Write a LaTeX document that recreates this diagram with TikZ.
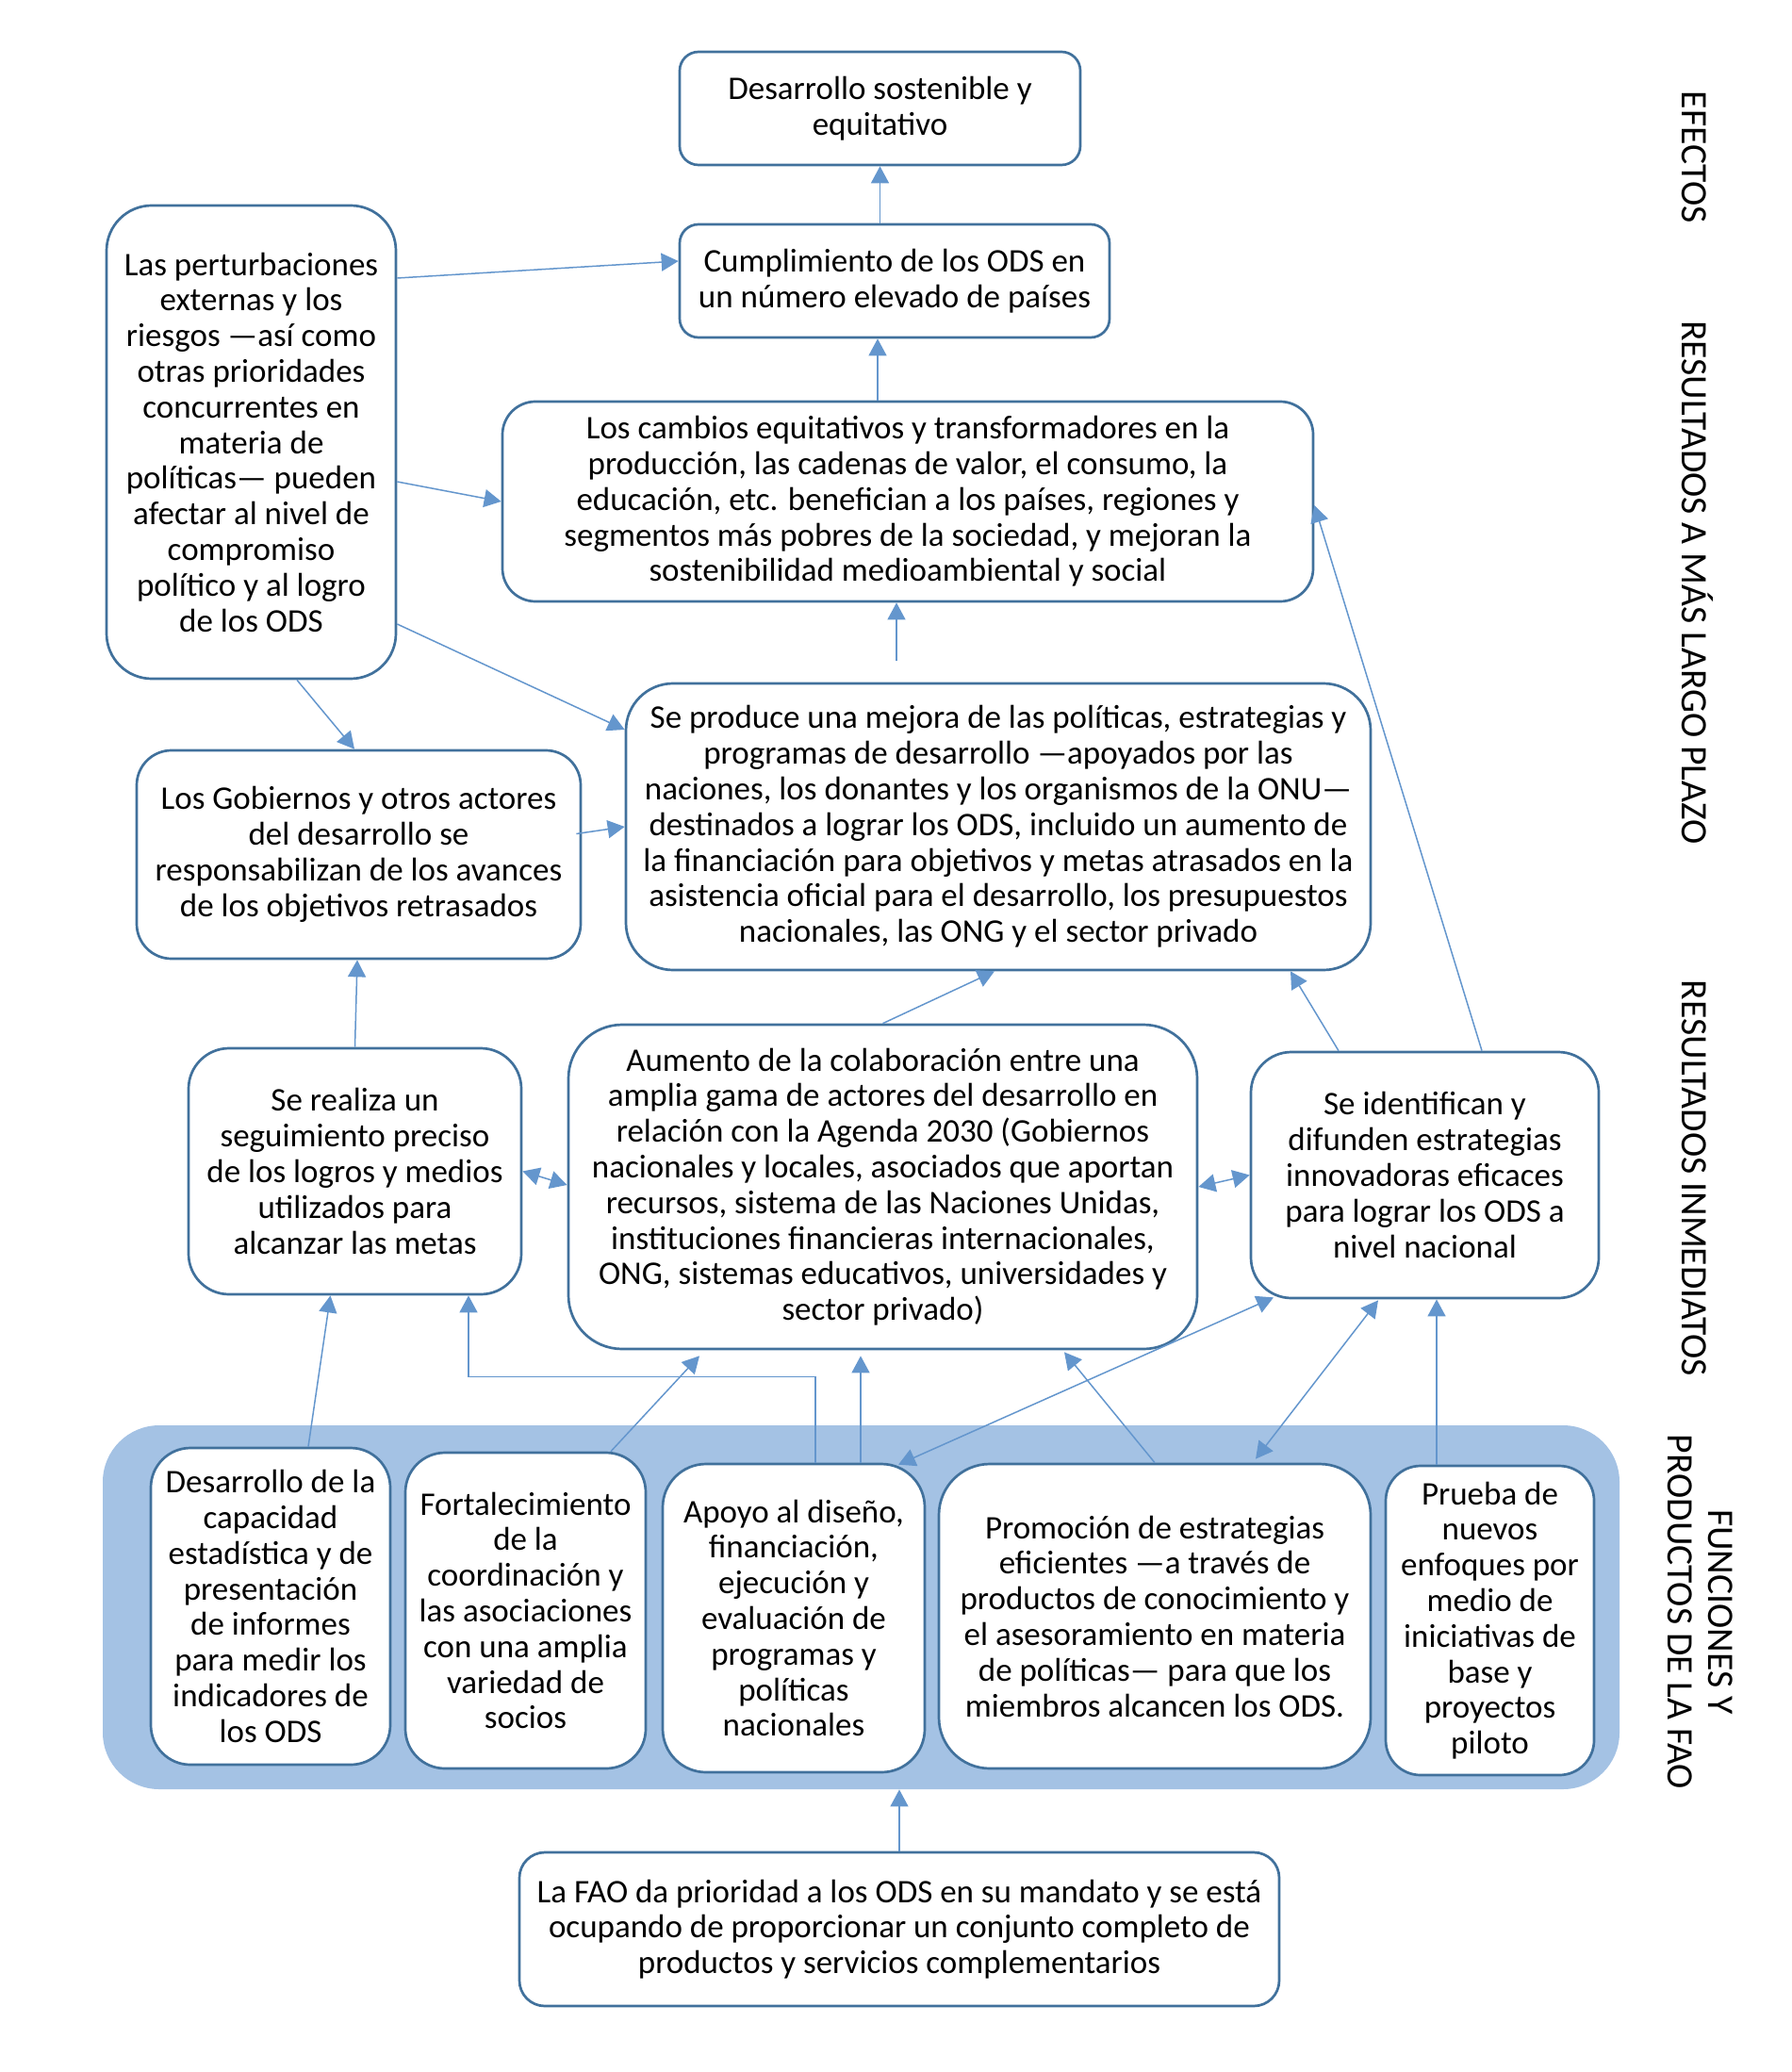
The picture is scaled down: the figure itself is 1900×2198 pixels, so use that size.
\documentclass[tikz,border=0pt]{standalone}
\usepackage{fontspec}
\setmainfont{Carlito}
\usetikzlibrary{arrows.meta,calc}
\definecolor{boxC}{HTML}{41719C}
\definecolor{connC}{HTML}{6496CD}
\definecolor{bandC}{HTML}{A4C2E4}
\newcommand{\mainsz}{\fontsize{17.5}{18.9}\selectfont}
\newcommand{\lblsz}{\fontsize{19.8}{22}\selectfont}
\tikzset{
  box/.style n args={3}{draw=boxC, line width=1.35pt, fill=white, rounded corners=#3,
    minimum width=#1, minimum height=#2, align=center, inner sep=2pt, font=\mainsz},
  conn/.style={draw=connC, line width=0.75pt, -{Triangle[length=9pt,width=9.5pt]}},
  dconn/.style={draw=connC, line width=0.75pt, {Triangle[length=9pt,width=9.5pt]}-{Triangle[length=9pt,width=9.5pt]}},
  lbl/.style={font=\lblsz, inner sep=0pt, text height=12.75pt, text depth=0pt, rotate=-90}
}
\begin{document}
\begin{tikzpicture}[x=0.5pt,y=-0.5pt]
\useasboundingbox (0,0) rectangle (1900,2198);

% band
\node[fill=bandC, rounded corners=30pt, minimum width=804.5pt, minimum height=193pt, inner sep=0pt] (band) at (913.5,1705) {};

% boxes
\node[box={212.5pt}{60pt}{10pt}] (D) at (933.5,115) {Desarrollo sostenible y\\equitativo};
\node[box={228pt}{60pt}{10pt}] (C) at (949,298) {Cumplimiento de los ODS en\\un número elevado de países};
\node[box={153.5pt}{251pt}{24pt}] (L) at (266.5,469) {Las perturbaciones\\externas y los\\riesgos —así como\\otras prioridades\\concurrentes en\\materia de\\políticas— pueden\\afectar al nivel de\\compromiso\\político y al logro\\de los ODS};
\node[box={430pt}{106pt}{17.5pt}] (CB) at (963,532) {Los cambios equitativos y transformadores en la\\producción, las cadenas de valor, el consumo, la\\educación, etc. benefician a los países, regiones y\\segmentos más pobres de la sociedad, y mejoran la\\sostenibilidad medioambiental y social};
\node[box={395pt}{152pt}{25pt}] (SP) at (1059,877) {Se produce una mejora de las políticas, estrategias y\\programas de desarrollo —apoyados por las\\naciones, los donantes y los organismos de la ONU—\\destinados a lograr los ODS, incluido un aumento de\\la financiación para objetivos y metas atrasados en la\\asistencia oficial para el desarrollo, los presupuestos\\nacionales, las ONG y el sector privado};
\node[box={235.5pt}{110.5pt}{18.5pt}] (G) at (380.5,906.5) {Los Gobiernos y otros actores\\del desarrollo se\\responsabilizan de los avances\\de los objetivos retrasados};
\node[box={176.5pt}{130.5pt}{21.5pt}] (SR) at (376.5,1242.5) {Se realiza un\\seguimiento preciso\\de los logros y medios\\utilizados para\\alcanzar las metas};
\node[box={333.5pt}{172pt}{28.5pt}] (A) at (936.5,1259) {Aumento de la colaboración entre una\\amplia gama de actores del desarrollo en\\relación con la Agenda 2030 (Gobiernos\\nacionales y locales, asociados que aportan\\recursos, sistema de las Naciones Unidas,\\instituciones financieras internacionales,\\ONG, sistemas educativos, universidades y\\sector privado)};
\node[box={184.5pt}{130.5pt}{21.5pt}] (SI) at (1511.5,1246.5) {Se identifican y\\difunden estrategias\\innovadoras eficaces\\para lograr los ODS a\\nivel nacional};

\node[box={127pt}{168pt}{21pt}] (B1) at (287,1704) {Desarrollo de la\\capacidad\\estadística y de\\presentación\\de informes\\para medir los\\indicadores de\\los ODS};
\node[box={127.5pt}{167.5pt}{21pt}] (B2) at (557.5,1708.5) {Fortalecimiento\\de la\\coordinación y\\las asociaciones\\con una amplia\\variedad de\\socios};
\node[box={139pt}{163.5pt}{23pt}] (B3) at (842,1716.5) {Apoyo al diseño,\\financiación,\\ejecución y\\evaluación de\\programas y\\políticas\\nacionales};
\node[box={229pt}{161.5pt}{27pt}] (B4) at (1225,1714.5) {Promoción de estrategias\\eficientes —a través de\\productos de conocimiento y\\el asesoramiento en materia\\de políticas— para que los\\miembros alcancen los ODS.};
\node[box={110.5pt}{164pt}{18.5pt}] (B5) at (1580.5,1719) {Prueba de\\nuevos\\enfoques por\\medio de\\iniciativas de\\base y\\proyectos\\piloto};
\node[box={403pt}{81.5pt}{13.5pt}] (FAO) at (954,2046.5) {La FAO da prioridad a los ODS en su mandato y se está\\ocupando de proporcionar un conjunto completo de\\productos y servicios complementarios};

% side labels
\node[lbl] (lefe) at (1797,167) {EFECTOS};
\node[lbl] (llp) at (1797,618) {RESULTADOS A MÁS LARGO PLAZO};
\node[lbl] (lin) at (1797,1250) {RESULTADOS INMEDIATOS};
\node[lbl] (lfun) at (1825,1710) {FUNCIONES Y};
\node[lbl] (lprod) at (1782,1710) {PRODUCTOS DE LA FAO};

% connectors
\draw[conn] (D.south |- C.north) -- (D.south);
\draw[conn] ($(CB.north)+(-32,0)$) -- ($(C.south)+(-18,0)$);
\draw[conn, shorten <=11.5pt] ($(SP.north)+(-108,0)$) -- ($(CB.south)+(-12,0)$);
\draw[conn] ($(L.east)+(0,-174)$) -- ($(C.west)+(0,-21)$);
\draw[conn] ($(L.east)+(0,42)$) -- (CB.west);
\draw[conn] ($(L.east)+(0,193)$) -- ($(SP.west)+(0,-103)$);
\draw[conn] ($(L.south)+(48.5,0)$) -- ($(G.north)+(-4.5,0)$);
\draw[conn] ($(G.east)+(-6,-22)$) -- (SP.west);
\draw[conn] (SR.north) -- ($(G.south)+(-1.5,0)$);
\draw[conn] (A.north) -- ($(SP.south)+(-4,0)$);
\draw[conn] ($(SI.north)+(-91.5,0)$) -- ($(SP.south)+(310,0)$);
\draw[conn] ($(SI.north)+(60.5,0)$) -- ($(CB.east)+(0,4)$);
\draw[dconn] (SR.east) -- ($(A.west)+(0,-2)$);
\draw[dconn] (A.east) -- (SI.west);
\draw[conn] ($(B1.north)+(40,0)$) -- ($(SR.south)+(-26,0)$);
\draw[conn] ($(B3.north)+(23,0)$) -- ++(0,-91) -| ($(SR.south)+(120.5,0)$);
\draw[conn] ($(B2.north)+(90.5,0)$) -- ($(A.south)+(-194.5,6)$);
\draw[conn] ($(B3.north)+(71,0)$) -- ($(A.south)+(-23.5,6)$);
\draw[conn] (B4.north) -- ($(A.south)+(192.5,2)$);
\draw[dconn] ($(B3.north)+(111,2)$) -- ($(SI.south)+(-160.5,-2)$);
\draw[dconn] ($(B4.north)+(107,-4)$) -- ($(SI.south)+(-49.5,1)$);
\draw[conn] ($(B5.north)+(-56.5,0)$) -- ($(SI.south)+(12.5,0)$);
\draw[conn] (FAO.north) -- (FAO.north |- band.south);
\end{tikzpicture}
\end{document}
